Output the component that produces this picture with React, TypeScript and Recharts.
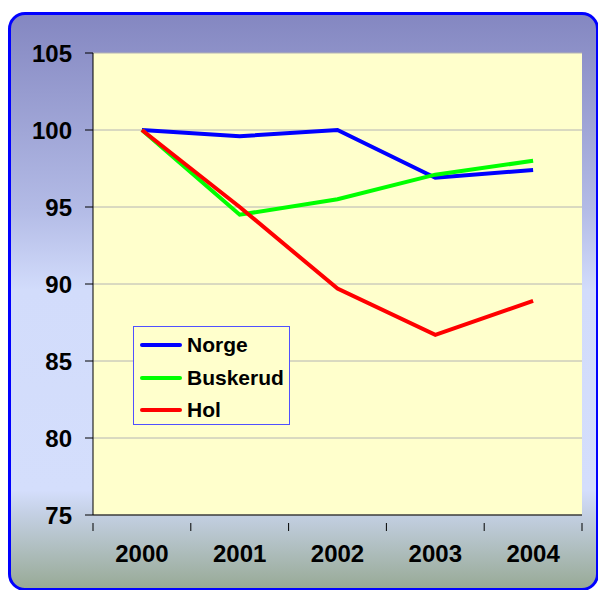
import React from 'react';
import {
  LineChart,
  Line,
  XAxis,
  YAxis,
  CartesianGrid
} from 'recharts';

const years = ['2000', '2001', '2002', '2003', '2004'];
const norge = [100, 99.6, 100, 96.9, 97.4];
const buskerud = [100, 94.5, 95.5, 97.1, 98.0];
const hol = [100, 95.0, 89.7, 86.7, 88.9];
const yTicks = [75, 80, 85, 90, 95, 100, 105];

const series = [
  { key: 'Norge', color: '#0000ff' },
  { key: 'Buskerud', color: '#00ff00' },
  { key: 'Hol', color: '#ff0000' }
];

const chartData = years.map((year, i) => ({
  year,
  Norge: norge[i],
  Buskerud: buskerud[i],
  Hol: hol[i]
}));

const FONT = '"Liberation Sans", Arial, sans-serif';
const HALF_BAND = (582 - 93) / years.length / 2;

const YearTick = (props: any) => {
  const { x, y, payload, index } = props;
  return (
    <g>
      <line x1={x - HALF_BAND} y1={y} x2={x - HALF_BAND} y2={y + 8} stroke="#000" />
      {index === years.length - 1 && (
        <line x1={x + HALF_BAND} y1={y} x2={x + HALF_BAND} y2={y + 8} stroke="#000" />
      )}
      <text
        x={x}
        y={y + 39}
        textAnchor="middle"
        fontFamily={FONT}
        fontWeight="bold"
        fontSize={24}
        fill="#000"
      >
        {payload.value}
      </text>
    </g>
  );
};

// legend drawn as plain html over the chart
const LegendBox = () => (
  <div
    style={{
      position: 'absolute',
      left: 133,
      top: 326,
      width: 155,
      height: 95,
      paddingTop: 2,
      border: '1px solid #5050ff',
      background: '#FFFFCC'
    }}
  >
    {series.map(s => (
      <div key={s.key} style={{ display: 'flex', alignItems: 'center', height: 32.5 }}>
        <div
          style={{
            width: 42,
            height: 4,
            marginLeft: 6,
            marginRight: 5,
            background: s.color,
            borderRadius: 2
          }}
        />
        <span style={{ fontFamily: FONT, fontWeight: 'bold', fontSize: 21, color: '#000' }}>
          {s.key}
        </span>
      </div>
    ))}
  </div>
);

export default function App() {
  return (
    <div style={{ position: 'absolute', left: 0, top: 0, width: 598, height: 590, overflow: 'hidden' }}>
      <div
        style={{
          position: 'absolute',
          left: 8,
          top: 12,
          width: 585,
          height: 573,
          border: '3px solid #0000ff',
          borderRadius: 17,
          background:
            'linear-gradient(to bottom, #8487c1 0%, #b3bbe6 34%, #d2dcfb 48%, #d4defc 83%, #c4d0e4 87%, #98aa96 100%)'
        }}
      />
      <div style={{ position: 'absolute', left: 0, top: 0 }}>
        <LineChart
          width={598}
          height={590}
          data={chartData}
          margin={{ top: 53, right: 16, bottom: 15, left: 0 }}
        >
          <CartesianGrid
            vertical={false}
            stroke="#b4b4b4"
            fill="#FFFFCC"
            fillOpacity={1}
          />
          <XAxis
            dataKey="year"
            padding={{ left: HALF_BAND, right: HALF_BAND }}
            height={60}
            axisLine={{ stroke: '#000' }}
            tickLine={false}
            tick={<YearTick />}
            interval={0}
          />
          <XAxis
            xAxisId="top"
            orientation="top"
            dataKey="year"
            height={0}
            tick={false}
            tickLine={false}
            axisLine={{ stroke: '#808080', strokeWidth: 2 }}
          />
          <YAxis
            domain={[75, 105]}
            ticks={yTicks}
            width={93}
            interval={0}
            axisLine={{ stroke: '#000' }}
            tickLine={{ stroke: '#000' }}
            tickSize={8}
            tickMargin={13}
            tick={{ fill: '#000', fontFamily: FONT, fontWeight: 'bold', fontSize: 24 }}
          />
          <YAxis
            yAxisId="right"
            orientation="right"
            domain={[75, 105]}
            width={0}
            tick={false}
            tickLine={false}
            axisLine={{ stroke: '#808080', strokeWidth: 2 }}
          />
          {series.map(s => (
            <Line
              key={s.key}
              type="linear"
              dataKey={s.key}
              stroke={s.color}
              strokeWidth={4}
              dot={false}
              isAnimationActive={false}
            />
          ))}
        </LineChart>
      </div>
      <LegendBox />
    </div>
  );
}
